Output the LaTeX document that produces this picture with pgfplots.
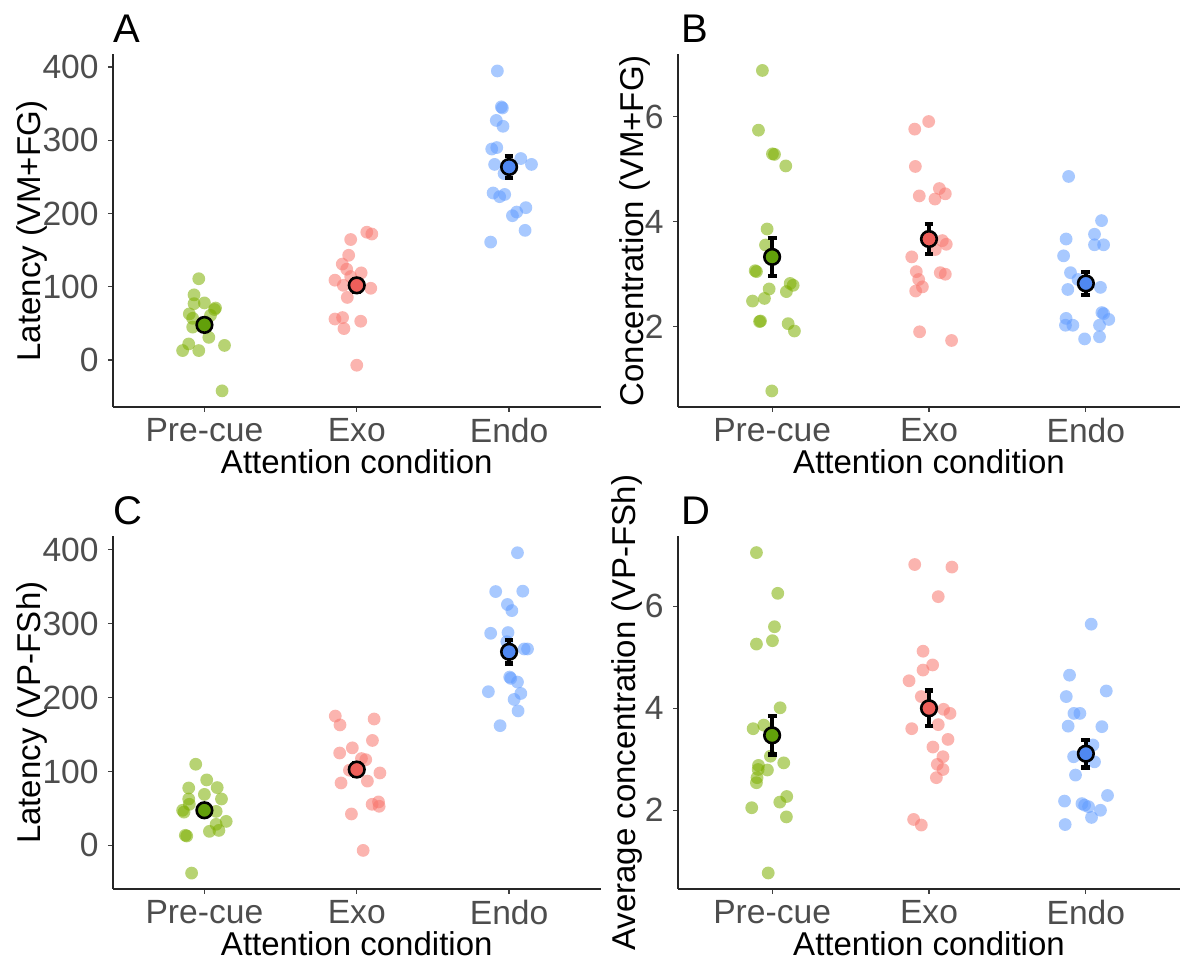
\documentclass[border=0pt]{standalone}
\usepackage{pgfplots}
\pgfplotsset{compat=1.18}
\usepackage{fontspec}
\setmainfont{Liberation Sans}
\definecolor{cgreen}{HTML}{7CAE00}
\definecolor{cred}{HTML}{F8766D}
\definecolor{cblue}{HTML}{619CFF}
\definecolor{mgreen}{HTML}{62A00A}
\definecolor{mred}{HTML}{EE5F5A}
\definecolor{mblue}{HTML}{4F88F2}
\definecolor{tickgrey}{HTML}{4D4D4D}
\newcommand{\tickfont}{\fontsize{16.8}{18}\selectfont}
\newcommand{\titlefont}{\fontsize{16.5}{18}\selectfont}
\newcommand{\letterfont}{\fontsize{20}{22}\selectfont}
\pgfplotsset{
  panel/.style={
    scale only axis, axis lines*=left, clip mode=individual,
    axis line style={line width=0.8pt, black!85},
    xmin=0.4, xmax=3.6, xtick={1,2,3}, xticklabels={Pre-cue,Exo,Endo},
    tick align=outside, major tick length=2.5pt,
    tick style={line width=0.6pt, black!75},
    /pgf/number format/assume math mode=true,
    ticklabel style={font=\tickfont, text=tickgrey},
    xticklabel style={anchor=north, inner sep=0pt, yshift=-3pt},
    yticklabel style={anchor=east, inner sep=0pt, xshift=-4.5pt},
    xlabel={Attention condition},
    xlabel style={at={(axis description cs:0.5,-0.19)}, anchor=base, font=\titlefont, inner sep=0pt},
    ylabel style={anchor=center, font=\titlefont, inner sep=0pt},
  },
  pts/.style={only marks, mark=*, mark size=3.2pt, mark options={draw opacity=0, fill opacity=0.55, fill=#1}},
  ebar/.style={draw=none, mark=none, forget plot, error bars/.cd, y dir=both, y explicit,
     error bar style={line width=2pt, black},
     error mark options={rotate=90, mark size=2.2pt, line width=2.2pt, black}},
  mean/.style={only marks, mark=*, mark size=3.9pt, mark options={draw=black, line width=1.3pt, fill=#1}},
}
\begin{document}
\begin{tikzpicture}
\useasboundingbox (0,0) rectangle (600pt,480.5pt);
% ---------------- A
\begin{axis}[panel, at={(56.5pt,277pt)}, anchor=south west, width=243.75pt, height=176.25pt,
  ymin=-64, ymax=417, ytick={0,100,200,300,400},
  ylabel={Latency (VM+FG)}, ylabel style={at={(axis description cs:-0.166,0.5)}}]
\addplot[pts=cgreen] coordinates {(0.963,111) (0.932,89) (1.0,78) (0.932,77) (1.073,71) (1.066,69) (0.901,63) (0.923,57) (1.04,61) (0.923,45) (1.029,31) (1.132,20) (0.897,22) (0.857,13) (0.963,13) (1.116,-42)};
\addplot[pts=cred] coordinates {(2.066,174.5) (2.099,172) (1.96,164.5) (1.947,143) (1.905,131) (1.934,124) (2.029,119) (1.96,114) (1.857,109) (1.912,102) (2.092,98) (1.938,85.5) (1.857,56) (1.907,58) (2.026,53) (1.916,43) (2.0,-7)};
\addplot[pts=cblue] coordinates {(2.923,394.5) (2.949,345.5) (2.956,344) (2.916,327) (2.96,319) (2.886,288) (2.919,290) (3.077,275) (3.147,267) (2.905,267) (2.967,254.5) (2.895,228) (2.938,223) (2.971,226) (3.11,208) (3.05,202) (3.022,197) (3.105,177) (2.879,161)};
\addplot[ebar] coordinates {(1,48) +- (0,8) (2,102) +- (0,9) (3,263.5) +- (0,15)};
\addplot[mean=mgreen] coordinates {(1,48)};
\addplot[mean=mred] coordinates {(2,102)};
\addplot[mean=mblue] coordinates {(3,263.5)};
\node[anchor=base west, font=\letterfont, inner sep=0pt] at (axis description cs:0,1) [yshift=6pt] {A};
\end{axis}
% ---------------- B
\begin{axis}[panel, at={(339pt,277pt)}, anchor=south west, width=251pt, height=176.25pt,
  ymin=0.475, ymax=7.18, ytick={2,4,6},
  ylabel={Concentration (VM+FG)}, ylabel style={at={(axis description cs:-0.0857,0.5)}}]
\addplot[pts=cgreen] coordinates {(0.938,6.876) (0.913,5.74) (1.002,5.29) (1.015,5.28) (1.087,5.06) (0.968,3.86) (0.958,3.556) (0.892,3.067) (0.9,3.05) (1.115,2.825) (1.134,2.79) (0.981,2.72) (1.091,2.67) (0.951,2.54) (0.875,2.49) (0.926,2.11) (0.92,2.1) (1.102,2.06) (1.142,1.92) (0.998,0.78)};
\addplot[pts=cred] coordinates {(1.998,5.905) (1.909,5.76) (1.913,5.05) (2.066,4.63) (2.104,4.53) (1.938,4.49) (2.038,4.43) (2.085,3.64) (2.11,3.57) (2.04,3.47) (1.89,3.33) (1.919,3.05) (2.072,3.03) (2.104,3.0) (1.934,2.9) (1.958,2.76) (1.915,2.68) (1.94,1.905) (2.144,1.74)};
\addplot[pts=cblue] coordinates {(2.89,4.86) (3.1,4.02) (3.055,3.76) (2.874,3.67) (3.055,3.56) (3.113,3.56) (2.858,3.35) (2.902,3.03) (2.95,2.9) (3.093,2.75) (2.885,2.71) (3.102,2.27) (3.113,2.25) (2.874,2.16) (3.146,2.14) (2.87,2.03) (2.917,2.03) (3.087,2.03) (3.087,1.81) (2.992,1.77)};
\addplot[ebar] coordinates {(1,3.33) +- (0,0.36) (2,3.67) +- (0,0.28) (3,2.825) +- (0,0.22)};
\addplot[mean=mgreen] coordinates {(1,3.33)};
\addplot[mean=mred] coordinates {(2,3.67)};
\addplot[mean=mblue] coordinates {(3,2.825)};
\node[anchor=base west, font=\letterfont, inner sep=0pt] at (axis description cs:0,1) [yshift=6pt, xshift=1.5pt] {B};
\end{axis}
% ---------------- C
\begin{axis}[panel, at={(56.5pt,36pt)}, anchor=south west, width=243.75pt, height=176.25pt,
  ymin=-59, ymax=418, ytick={0,100,200,300,400},
  ylabel={Latency (VP-FSh)}, ylabel style={at={(axis description cs:-0.167,0.5)}}]
\addplot[pts=cgreen] coordinates {(0.943,109.8) (1.015,88.6) (0.897,77.7) (1.084,78.2) (1.0,69) (1.112,62.8) (0.897,62.8) (0.901,55.6) (0.857,47.5) (0.866,45) (1.077,46) (1.143,32.5) (1.077,28.5) (1.033,19) (1.095,20.3) (0.875,13.6) (0.884,12.7) (0.916,-37.5)};
\addplot[pts=cred] coordinates {(1.859,175) (1.89,163) (2.114,171) (2.103,142) (1.971,132) (1.888,125) (2.059,116) (2.031,117.5) (1.952,101.7) (2.152,98) (1.897,84.5) (2.07,87) (2.143,58.8) (2.147,52.9) (2.101,55.6) (1.965,42.5) (2.042,-6.8)};
\addplot[pts=cblue] coordinates {(3.055,396) (2.912,343.5) (3.09,344) (2.989,326) (3.018,317.7) (2.879,287) (2.993,288) (2.985,275.7) (3.099,265.8) (3.121,265.8) (3.004,227.8) (3.011,226) (3.055,221) (2.864,208) (3.077,205.6) (3.033,197.5) (3.059,182) (2.941,162)};
\addplot[ebar] coordinates {(1,47.5) +- (0,8) (2,102.6) +- (0,9) (3,262) +- (0,16)};
\addplot[mean=mgreen] coordinates {(1,47.5)};
\addplot[mean=mred] coordinates {(2,102.6)};
\addplot[mean=mblue] coordinates {(3,262)};
\node[anchor=base west, font=\letterfont, inner sep=0pt] at (axis description cs:0,1) [yshift=6pt] {C};
\end{axis}
% ---------------- D
\begin{axis}[panel, at={(339pt,36pt)}, anchor=south west, width=251pt, height=176.25pt,
  ymin=0.456, ymax=7.37, ytick={2,4,6},
  ylabel={Average concentration (VP-FSh)}, ylabel style={at={(axis description cs:-0.1016,0.5)}}]
\addplot[pts=cgreen] coordinates {(0.9,7.054) (1.036,6.255) (1.015,5.6) (1.002,5.326) (0.9,5.26) (1.051,4.01) (0.947,3.67) (0.879,3.6) (0.989,3.06) (0.913,2.88) (1.074,2.93) (0.97,2.79) (0.911,2.8) (0.904,2.64) (0.9,2.54) (1.093,2.27) (1.049,2.16) (0.87,2.05) (1.091,1.87) (0.975,0.77)};
\addplot[pts=cred] coordinates {(1.909,6.82) (2.146,6.77) (2.059,6.19) (1.962,5.12) (2.023,4.85) (1.962,4.75) (1.873,4.54) (1.951,4.23) (2.093,3.98) (2.134,3.9) (2.059,3.68) (1.89,3.6) (2.121,3.39) (2.025,3.24) (2.089,3.05) (2.053,2.9) (2.089,2.8) (2.047,2.64) (1.902,1.82) (1.951,1.71)};
\addplot[pts=cblue] coordinates {(3.034,5.65) (2.896,4.65) (2.875,4.23) (3.13,4.34) (2.924,3.9) (2.962,3.9) (2.887,3.65) (3.102,3.64) (3.045,3.28) (2.922,3.05) (3.055,2.95) (2.934,2.69) (3.138,2.29) (2.864,2.18) (2.975,2.13) (2.992,2.1) (3.017,2.07) (3.093,2.0) (3.036,1.86) (2.868,1.72)};
\addplot[ebar] coordinates {(1,3.47) +- (0,0.38) (2,4.0) +- (0,0.35) (3,3.11) +- (0,0.27)};
\addplot[mean=mgreen] coordinates {(1,3.47)};
\addplot[mean=mred] coordinates {(2,4.0)};
\addplot[mean=mblue] coordinates {(3,3.11)};
\node[anchor=base west, font=\letterfont, inner sep=0pt] at (axis description cs:0,1) [yshift=6pt, xshift=1.5pt] {D};
\end{axis}
\end{tikzpicture}
\end{document}
